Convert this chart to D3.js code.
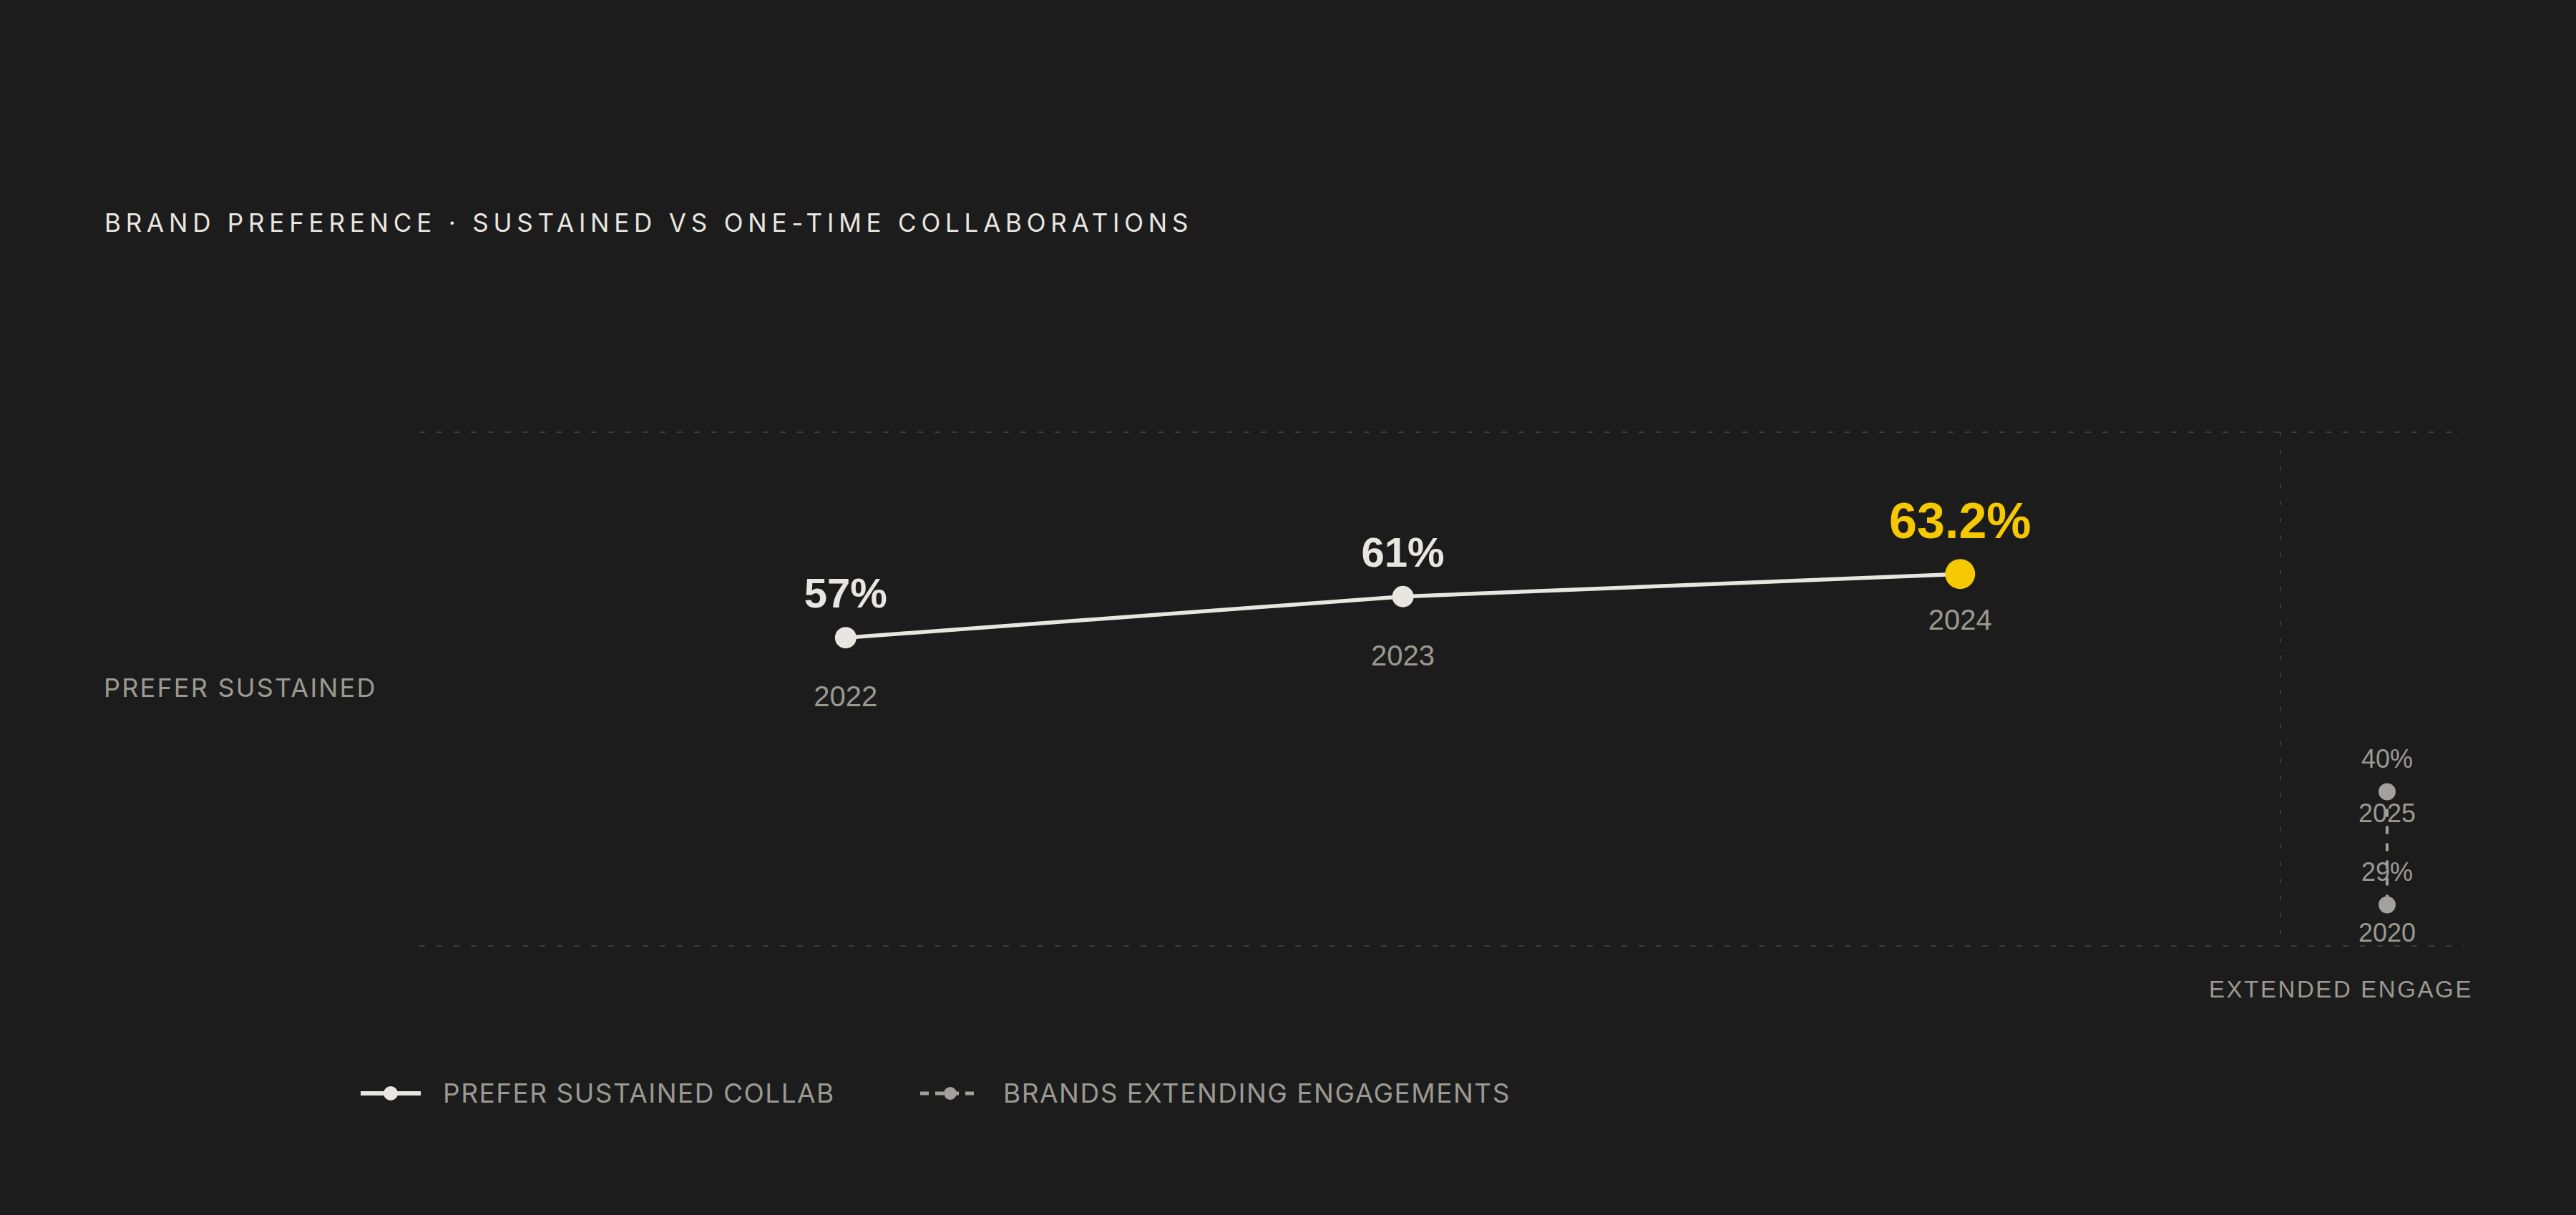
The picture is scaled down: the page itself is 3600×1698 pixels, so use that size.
<!DOCTYPE html>
<html>
<head>
<meta charset="utf-8">
<script src="https://cdn.jsdelivr.net/npm/d3@7"></script>
<style>
  html, body { margin: 0; padding: 0; background: #1c1c1c; }
  svg { display: block; }
</style>
</head>
<body>
<svg id="chart" width="3600" height="1698"></svg>
<script>
// ---- data ----
const titleText = "BRAND PREFERENCE · SUSTAINED VS ONE-TIME COLLABORATIONS";
const rowLabel = "PREFER SUSTAINED";
const sideLabel = "EXTENDED ENGAGE";
const sustainedYears = ["2022", "2023", "2024"];
const sustainedValues = [57, 61, 63.2];
const valueLabels = ["57%", "61%", "63.2%"];
const extendYears = ["2025", "2020"];
const extendValues = [40, 29];
const extendLabels = ["40%", "29%"];
const legendLabels = ["PREFER SUSTAINED COLLAB", "BRANDS EXTENDING ENGAGEMENTS"];

// ---- layout / style ----
const W = 3600, H = 1698;
const plot = { left: 586, right: 3444, top: 604, bottom: 1322, divider: 3187, sideX: 3336 };
const C = { bg: "#1c1c1c", fg: "#e8e6e0", gray: "#9b9992", grid: "#3c3c3c", accent: "#f6c800", dot2: "#a3a19b" };
const sansUI = "Inter, 'Noto Sans', sans-serif";
const sansNum = "'Liberation Sans', Arial, sans-serif";

const svg = d3.select("#chart");
svg.append("rect").attr("width", W).attr("height", H).attr("fill", C.bg);

const x = d3.scalePoint().domain(sustainedYears).range([plot.left, plot.divider]).padding(0.67).align(0.571);
const y = d3.scaleLinear().domain([27, 77]).range([plot.bottom, plot.top]);
const y2 = d3.scaleLinear().domain([25, 75]).range([plot.bottom, plot.top]);

// title
svg.append("text").attr("x", 146).attr("y", 324)
  .attr("fill", C.fg).attr("font-family", sansUI).attr("font-size", 35)
  .style("letter-spacing", "6.8px").text(titleText);

// gridlines
[y.domain()[0], y.domain()[1]].forEach(v => {
  svg.append("line").attr("x1", plot.left).attr("x2", plot.right)
    .attr("y1", y(v)).attr("y2", y(v))
    .attr("stroke", C.grid).attr("stroke-width", 2).attr("stroke-dasharray", "8,16");
});
svg.append("line").attr("x1", plot.divider).attr("x2", plot.divider)
  .attr("y1", plot.top).attr("y2", plot.bottom)
  .attr("stroke", C.grid).attr("stroke-width", 2).attr("stroke-dasharray", "6,18");

// row label
svg.append("text").attr("x", 145).attr("y", 974)
  .attr("fill", C.gray).attr("font-family", sansUI).attr("font-size", 36)
  .style("letter-spacing", "2.2px").text(rowLabel);

// side label
svg.append("text").attr("x", 3456).attr("y", 1394).attr("text-anchor", "end")
  .attr("fill", C.gray).attr("font-family", sansNum).attr("font-size", 33)
  .style("letter-spacing", "2.6px").text(sideLabel);

// main line
const pts = sustainedYears.map((yr, i) => ({ yr, v: sustainedValues[i], lab: valueLabels[i], hi: i === sustainedYears.length - 1 }));
svg.append("path").datum(pts)
  .attr("d", d3.line().x(d => x(d.yr)).y(d => y(d.v)))
  .attr("fill", "none").attr("stroke", C.fg).attr("stroke-width", 5.5);

const g = svg.append("g").selectAll("g").data(pts).join("g");
g.append("circle").attr("cx", d => x(d.yr)).attr("cy", d => y(d.v))
  .attr("r", d => d.hi ? 21 : 15).attr("fill", d => d.hi ? C.accent : C.fg);
g.append("text").attr("x", d => x(d.yr)).attr("y", d => y(d.v) + (d.hi ? -50 : -42))
  .attr("text-anchor", "middle").attr("font-family", sansNum).attr("font-weight", "bold")
  .attr("font-size", d => d.hi ? 70 : 58).attr("fill", d => d.hi ? C.accent : C.fg)
  .text(d => d.lab);
g.append("text").attr("x", d => x(d.yr)).attr("y", d => y(d.v) + (d.hi ? 78 : 96))
  .attr("text-anchor", "middle").attr("font-family", sansNum).attr("font-size", 40)
  .attr("fill", C.gray).text(d => d.yr);

// side series
const sp = extendYears.map((yr, i) => ({ yr, v: extendValues[i], lab: extendLabels[i] }));
svg.append("path").datum(sp)
  .attr("d", d3.line().x(() => plot.sideX).y(d => y2(d.v)))
  .attr("fill", "none").attr("stroke", C.dot2).attr("stroke-width", 4).attr("stroke-dasharray", "11,13");
const sg = svg.append("g").selectAll("g").data(sp).join("g");
sg.append("circle").attr("cx", plot.sideX).attr("cy", d => y2(d.v)).attr("r", 12).attr("fill", C.dot2);
sg.append("text").attr("x", plot.sideX).attr("y", d => y2(d.v) - 34)
  .attr("text-anchor", "middle").attr("font-family", sansNum).attr("font-size", 36)
  .attr("fill", C.gray).text(d => d.lab);
sg.append("text").attr("x", plot.sideX).attr("y", (d, i) => y2(d.v) + (i === 0 ? 42 : 51))
  .attr("text-anchor", "middle").attr("font-family", sansNum).attr("font-size", 36)
  .attr("fill", C.gray).text(d => d.yr);

// legend
const ly = 1528;
svg.append("line").attr("x1", 504).attr("x2", 588).attr("y1", ly).attr("y2", ly)
  .attr("stroke", C.fg).attr("stroke-width", 6);
svg.append("circle").attr("cx", 546).attr("cy", ly).attr("r", 10).attr("fill", C.fg);
svg.append("text").attr("x", 619).attr("y", 1541).attr("fill", C.gray)
  .attr("font-family", sansUI).attr("font-size", 37).style("letter-spacing", "1.5px").text(legendLabels[0]);

svg.append("line").attr("x1", 1286).attr("x2", 1361).attr("y1", ly).attr("y2", ly)
  .attr("stroke", C.dot2).attr("stroke-width", 5).attr("stroke-dasharray", "12,9");
svg.append("circle").attr("cx", 1328).attr("cy", ly).attr("r", 9).attr("fill", C.dot2);
svg.append("text").attr("x", 1402).attr("y", 1541).attr("fill", C.gray)
  .attr("font-family", sansUI).attr("font-size", 37).style("letter-spacing", "1.5px").text(legendLabels[1]);
</script>
</body>
</html>
